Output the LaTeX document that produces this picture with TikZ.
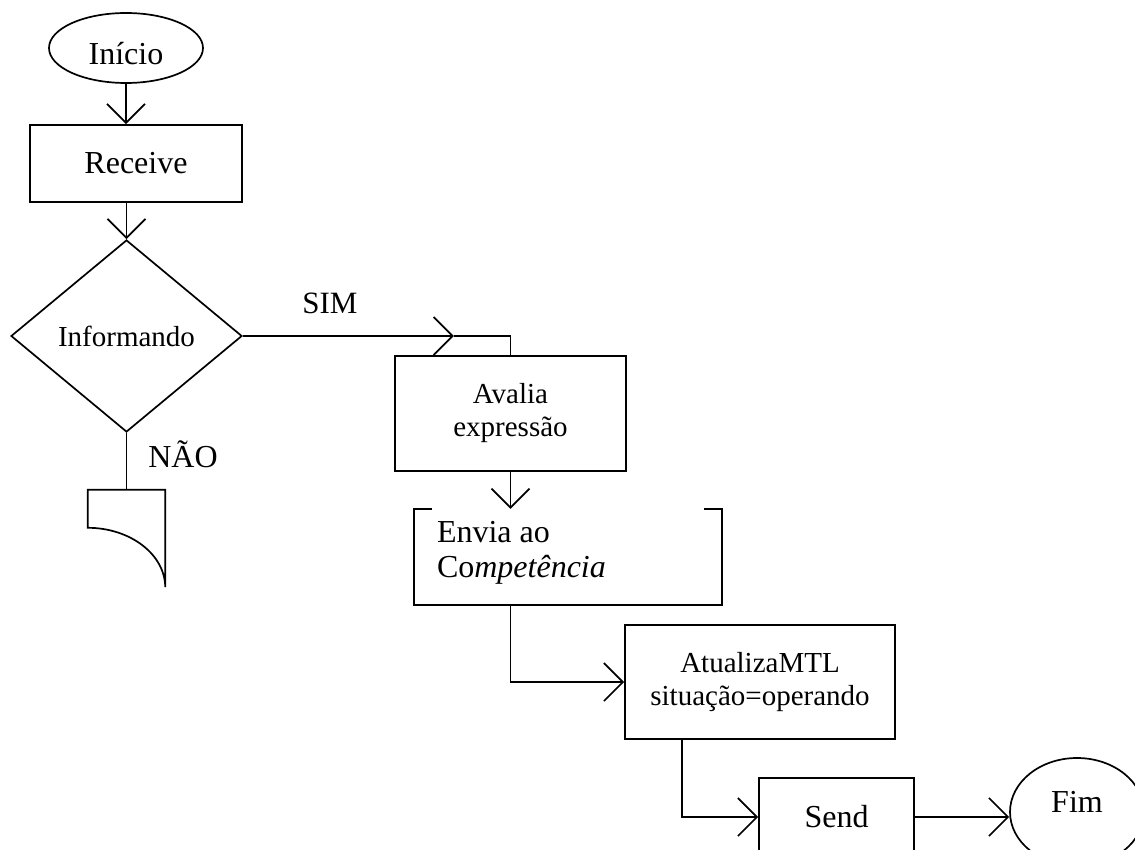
\documentclass[tikz,border=0pt]{standalone}
\usepackage{fontspec}
\setmainfont{Liberation Serif}
\usetikzlibrary{arrows.meta,shapes.geometric,calc}
\begin{document}
\begin{tikzpicture}[x=1pt,y=-1pt,
  every node/.style={font=\fontsize{29}{33}\selectfont},
  big/.style={font=\fontsize{32}{35}\selectfont},
  flow/.style={line width=1.7pt},
  arr/.style={flow,-{Straight Barb[length=19pt,width=38pt,line width=1.7pt]}},
  box/.style={draw,line width=1.7pt,rectangle,inner sep=0pt,align=center},
  term/.style={draw,line width=1.7pt,ellipse,inner sep=0pt},
  decision/.style={draw,line width=1.7pt,diamond,inner sep=0pt},
  plain/.style={inner sep=0pt}]
\clip (0,0) rectangle (1135,850);

% terminals, processes and decision
\node[term, big, minimum width=154pt, minimum height=70pt, text height=34pt] (inicio) at (126,48) {Início};
\node[box, big, minimum width=212pt, minimum height=77pt] (receive) at (136,163.5) {Receive};
\node[decision, minimum width=231pt, minimum height=192pt] (dec) at (126.5,336) {Informando};
\node[box, minimum width=231pt, minimum height=115pt] (avalia) at (510.5,413.5) {Avalia\\expressão};
\node[plain, minimum width=308pt, minimum height=96pt] (envia) at (568,557) {};
\node[plain, big, anchor=north west, align=left] (enviatxt) at ($(envia.north west)+(23,12)$) {Envia ao\\Co\textit{mpetência}};
\node[box, minimum width=270pt, minimum height=114pt] (atualiza) at (760,682) {AtualizaMTL\\situação=operando};
\node[box, big, minimum width=155pt, minimum height=78pt] (send) at (836.5,817) {Send};
\node[term, big, minimum width=134pt, minimum height=108pt, text height=22pt, text depth=22pt] (fim) at (1077,812) {Fim};
\node[plain, minimum width=77pt, minimum height=97pt] (nao) at (126.5,538.5) {};

% bracket outline of the message box
\draw[flow] ($(envia.north west)+(18,0)$) -- (envia.north west) -- (envia.south west)
  -- (envia.south east) -- (envia.north east) -- ++(-18,0);

% off-page connector on the negative branch
\draw[flow] (nao.south east) -- (nao.north east) -- (nao.north west) -- ($(nao.north west)+(0,38)$)
  .. controls ($(nao.north west)+(42.5,38)$) and ($(nao.south east)+(0,-32.6)$) .. (nao.south east);

% branch labels
\node[font=\fontsize{31}{34}\selectfont] (sim) at (330,303) {SIM};
\node[big] (naolabel) at (183,454) {NÃO};

% connectors
\draw[arr] (inicio.south) -- (inicio.south |- receive.north);
\draw[arr] (dec.north |- receive.south) -- (dec.north);
\coordinate (simtip) at ($(dec.east)+(211,0)$);
\draw[arr] (dec.east) -- (simtip);
\draw[flow] (simtip) -- (simtip -| avalia.north) -- (avalia.north);
\draw[flow] (dec.south) -- (dec.south |- nao.north);
\draw[arr] (avalia.south) -- (avalia.south |- envia.north);
\draw[arr] (avalia.south |- envia.south) |- (atualiza.west);
\coordinate (atuout) at ($(atualiza.south west)+(58,0)$);
\draw[arr] (atuout) |- (send.west);
\draw[arr] (send.east) -- (send.east -| fim.west);
\end{tikzpicture}
\end{document}
